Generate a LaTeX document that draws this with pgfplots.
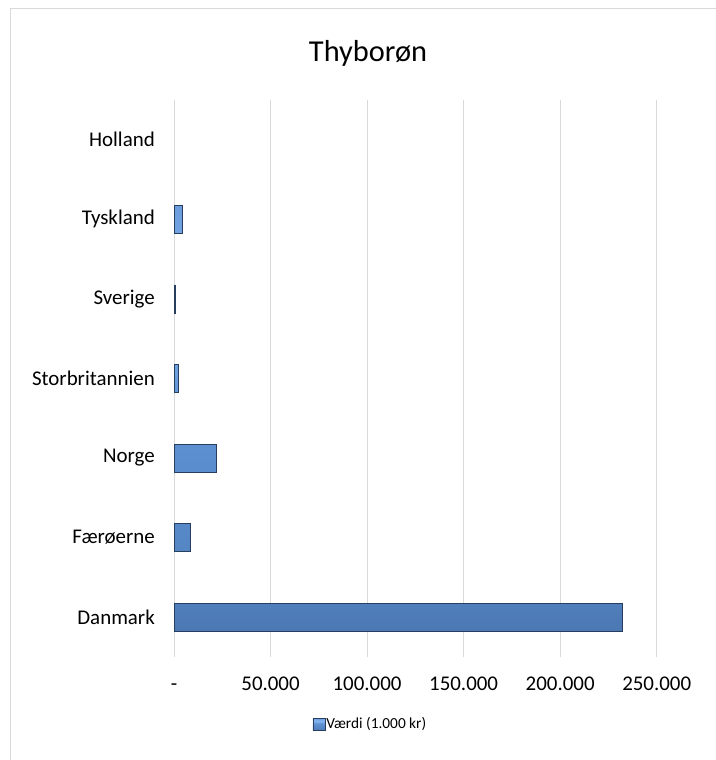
\documentclass[border=0pt]{standalone}
\usepackage{fontspec}
\setmainfont{Carlito}
\usepackage{pgfplots}
\pgfplotsset{compat=1.18}
\definecolor{gridgray}{RGB}{217,217,217}
\definecolor{barblue}{RGB}{79,129,189}
\definecolor{baredge}{RGB}{40,62,95}
% bevelled bar look: dark bottom edge, light stripe near the top
\pgfdeclareverticalshading{barbevel}{100bp}{%
  color(0bp)=(baredge);
  color(14bp)=(rgb,255:red,62;green,98;blue,148);
  color(30bp)=(rgb,255:red,82;green,130;blue,192);
  color(52bp)=(rgb,255:red,95;green,147;blue,212);
  color(62bp)=(rgb,255:red,132;green,182;blue,242);
  color(72bp)=(rgb,255:red,112;green,162;blue,226);
  color(86bp)=(rgb,255:red,92;green,142;blue,206);
  color(100bp)=(rgb,255:red,120;green,168;blue,228)}

\begin{document}
\begin{tikzpicture}[x=1bp,y=1bp]
% page size and the chart frame (only top and left edges show)
\path[use as bounding box] (0,0) rectangle (716,760);
\draw[gridgray, line width=1bp] (10,0) -- (10,751) -- (716,751);
\node[anchor=base, font=\fontsize{30.5}{36}\selectfont] at (368,698.3) {Thyborøn};

\begin{axis}[
    at={(174bp,103bp)},
    anchor=south west,
    scale only axis,
    width=482.7bp,
    height=557bp,
    xbar,
    bar width=28bp,
    xmin=0, xmax=250000,
    ymin=-0.5, ymax=6.5,
    scaled x ticks=false,
    axis lines*=left,
    x axis line style={draw=none},
    y axis line style={draw=gridgray, line width=1bp},
    major tick length=0pt,
    xmajorgrids,
    major grid style={draw=gridgray, line width=1bp},
    xtick={0,50000,100000,150000,200000,250000},
    xticklabels={-, 50.000, 100.000, 150.000, 200.000, 250.000},
    ytick={0,1,2,3,4,5,6},
    yticklabels={Danmark, Færøerne, Norge, Storbritannien, Sverige, Tyskland, Holland},
    xticklabel style={anchor=base, yshift=-34bp, font=\fontsize{21}{25}\selectfont},
    yticklabel style={anchor=east, inner sep=0pt, xshift=-19bp, font=\fontsize{21}{25}\selectfont},
    legend style={at={(0.406,-0.1203)}, anchor=center, draw=none, fill=none,
        font=\fontsize{15.4}{18}\selectfont, inner sep=0pt,
        nodes={inner sep=1bp}},
    legend image code/.code={
        \shade[shading=barbevel] (0bp,-6bp) rectangle (12bp,6bp);
        \draw[baredge, line width=0.6bp] (12bp,-6bp) -- (12bp,6bp);
    },
]
% Holland is 0 and draws nothing, as in the reference
\addplot[draw=baredge, line width=0.5bp, shading=barbevel]
coordinates {
    (232400,0)
    (8650,1)
    (22100,2)
    (2230,3)
    (900,4)
    (4300,5)
};
\legend{Værdi (1.000 kr)}
\end{axis}
\end{tikzpicture}
\end{document}
